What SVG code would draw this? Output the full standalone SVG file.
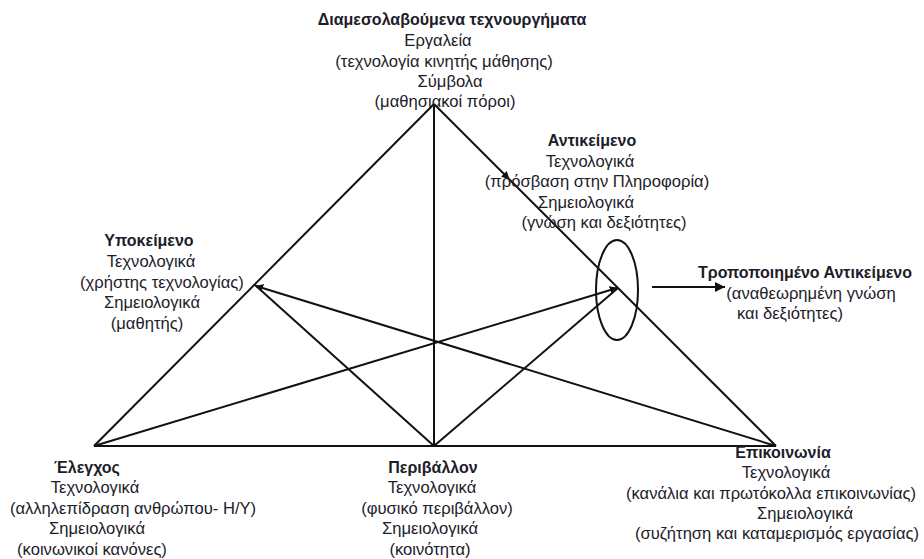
<svg xmlns="http://www.w3.org/2000/svg" width="924" height="559" viewBox="0 0 924 559">
<defs>
<style>
text{font-family:"Liberation Sans","Noto Sans",sans-serif;font-size:16.6px;fill:#1c1c2a;text-anchor:middle}
.b{font-weight:bold;font-size:16px}
.ln{stroke:#111;stroke-width:2;fill:none}
</style>
<marker id="ah" viewBox="0 0 10 10" refX="9" refY="5" markerWidth="8" markerHeight="8" orient="auto" markerUnits="userSpaceOnUse">
<path d="M0,0 L10,5 L0,10 z" fill="#111"/>
</marker>
<marker id="ah2" viewBox="0 0 10 10" refX="10" refY="5" markerWidth="12" markerHeight="10" orient="auto" markerUnits="userSpaceOnUse">
<path d="M0,0 L10,5 L0,10 z" fill="#111"/>
</marker>
</defs>
<rect width="924" height="559" fill="#fff"/>
<g id="connectors">
<line class="ln" x1="434" y1="104" x2="94" y2="446"/>
<line class="ln" x1="434" y1="104" x2="509" y2="179" marker-end="url(#ah)"/>
<line class="ln" x1="509" y1="179" x2="776" y2="446"/>
<line class="ln" x1="94" y1="446" x2="776" y2="446"/>
<line class="ln" x1="434" y1="104" x2="434" y2="446"/>
<line class="ln" x1="255" y1="285" x2="434" y2="446"/>
<line class="ln" x1="434" y1="446" x2="618" y2="288"/>
<line class="ln" x1="776" y1="446" x2="256" y2="286" marker-end="url(#ah)"/>
<line class="ln" x1="94" y1="446" x2="617" y2="288" marker-end="url(#ah)"/>
<ellipse class="ln" cx="617" cy="290" rx="21" ry="50"/>
<line class="ln" x1="652" y1="287" x2="725" y2="287" stroke-width="3" marker-end="url(#ah2)"/>
</g>
<g id="artifacts">
<text class="b" x="452" y="25">Διαμεσολαβούμενα τεχνουργήματα</text>
<text x="438" y="46">Εργαλεία</text>
<text x="444" y="67">(τεχνολογία κινητής μάθησης)</text>
<text x="450" y="87">Σύμβολα</text>
<text x="445" y="107">(μαθησιακοί πόροι)</text>
</g>
<g id="object">
<text class="b" x="592" y="146">Αντικείμενο</text>
<text x="590" y="167">Τεχνολογικά</text>
<text x="597" y="187">(πρόσβαση στην Πληροφορία)</text>
<text x="586" y="208">Σημειολογικά</text>
<text x="604" y="228">(γνώση και δεξιότητες)</text>
</g>
<g id="subject">
<text class="b" x="149" y="246">Υποκείμενο</text>
<text x="151" y="267">Τεχνολογικά</text>
<text x="162" y="288">(χρήστης τεχνολογίας)</text>
<text x="152" y="308">Σημειολογικά</text>
<text x="147" y="329">(μαθητής)</text>
</g>
<g id="modified-object">
<text class="b" x="805" y="278">Τροποποιημένο Αντικείμενο</text>
<text x="811" y="299">(αναθεωρημένη γνώση</text>
<text x="790" y="319">και δεξιότητες)</text>
</g>
<g id="control">
<text class="b" x="87" y="473">Έλεγχος</text>
<text x="95" y="493">Τεχνολογικά</text>
<text x="133" y="514">(αλληλεπίδραση ανθρώπου- Η/Υ)</text>
<text x="97" y="534">Σημειολογικά</text>
<text x="92" y="555">(κοινωνικοί κανόνες)</text>
</g>
<g id="environment">
<text class="b" x="433" y="473">Περιβάλλον</text>
<text x="432" y="493">Τεχνολογικά</text>
<text x="437" y="514">(φυσικό περιβάλλον)</text>
<text x="430" y="534">Σημειολογικά</text>
<text x="430" y="555">(κοινότητα)</text>
</g>
<g id="communication">
<text class="b" x="783" y="458">Επικοινωνία</text>
<text x="786" y="478">Τεχνολογικά</text>
<text x="771" y="499">(κανάλια και πρωτόκολλα επικοινωνίας)</text>
<text x="805" y="519">Σημειολογικά</text>
<text x="777" y="539">(συζήτηση και καταμερισμός εργασίας)</text>
</g>
</svg>
